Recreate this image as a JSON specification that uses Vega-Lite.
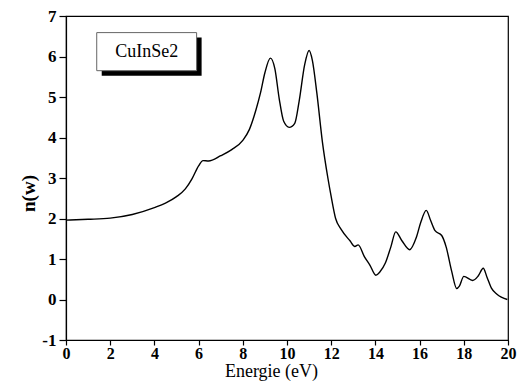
{
  "$schema": "https://vega.github.io/schema/vega-lite/v6.json",
  "width": 442,
  "height": 324,
  "autosize": {"type": "none"},
  "padding": {"left": 66, "top": 16, "right": 10, "bottom": 45},
  "background": "white",
  "config": {
    "view": {"stroke": "black", "strokeWidth": 1.2},
    "font": "Liberation Serif"
  },
  "layer": [
    {
      "data": {"values": [
        {"e": 0, "n": 1.96}, {"e": 1, "n": 1.98}, {"e": 2, "n": 2.01}, {"e": 3, "n": 2.1},
        {"e": 4, "n": 2.27}, {"e": 4.5, "n": 2.38}, {"e": 5, "n": 2.54}, {"e": 5.4, "n": 2.73},
        {"e": 5.7, "n": 2.98}, {"e": 6.0, "n": 3.3}, {"e": 6.2, "n": 3.43}, {"e": 6.45, "n": 3.42},
        {"e": 7.0, "n": 3.55}, {"e": 7.5, "n": 3.7}, {"e": 8.0, "n": 3.93}, {"e": 8.3, "n": 4.2},
        {"e": 8.6, "n": 4.69}, {"e": 8.8, "n": 5.1}, {"e": 9.0, "n": 5.6}, {"e": 9.25, "n": 5.96},
        {"e": 9.45, "n": 5.7}, {"e": 9.65, "n": 4.95}, {"e": 9.85, "n": 4.4}, {"e": 10.1, "n": 4.25},
        {"e": 10.35, "n": 4.35}, {"e": 10.55, "n": 4.9}, {"e": 10.8, "n": 5.8}, {"e": 11.0, "n": 6.15},
        {"e": 11.15, "n": 5.9}, {"e": 11.35, "n": 5.1}, {"e": 11.6, "n": 3.9}, {"e": 11.85, "n": 3.0},
        {"e": 12.0, "n": 2.54}, {"e": 12.2, "n": 2.0}, {"e": 12.45, "n": 1.73}, {"e": 12.85, "n": 1.45},
        {"e": 13.07, "n": 1.31}, {"e": 13.22, "n": 1.35}, {"e": 13.5, "n": 1.06}, {"e": 13.75, "n": 0.85},
        {"e": 14.02, "n": 0.6}, {"e": 14.2, "n": 0.68}, {"e": 14.45, "n": 0.9}, {"e": 14.7, "n": 1.3},
        {"e": 14.92, "n": 1.67}, {"e": 15.2, "n": 1.45}, {"e": 15.55, "n": 1.23}, {"e": 15.85, "n": 1.53},
        {"e": 16.05, "n": 1.9}, {"e": 16.3, "n": 2.2}, {"e": 16.5, "n": 1.95}, {"e": 16.7, "n": 1.7},
        {"e": 17.0, "n": 1.58}, {"e": 17.2, "n": 1.3}, {"e": 17.45, "n": 0.7}, {"e": 17.68, "n": 0.27},
        {"e": 17.8, "n": 0.33}, {"e": 18.0, "n": 0.57}, {"e": 18.4, "n": 0.47}, {"e": 18.65, "n": 0.58},
        {"e": 18.88, "n": 0.77}, {"e": 19.05, "n": 0.55}, {"e": 19.25, "n": 0.28}, {"e": 19.5, "n": 0.13},
        {"e": 19.97, "n": 0.0}
      ]},
      "mark": {"type": "line", "color": "black", "strokeWidth": 1.4, "interpolate": "monotone"},
      "encoding": {
        "x": {
          "field": "e", "type": "quantitative", "title": "Energie (eV)",
          "scale": {"domain": [0, 20], "nice": false, "zero": false},
          "axis": {
            "values": [0,1,2,3,4,5,6,7,8,9,10,11,12,13,14,15,16,17,18,19,20],
            "labelExpr": "datum.value % 2 == 0 ? toString(datum.value) : ''",
            "grid": false,
            "domainColor": "black", "domainWidth": 1.2,
            "tickColor": "black", "tickWidth": 1.2,
            "tickSize": {"condition": {"test": "datum.value % 2 == 0", "value": 5}, "value": 3},
            "labelFont": "Liberation Serif", "labelFontSize": 16, "labelFontWeight": "bold", "labelColor": "black",
            "labelPadding": 0, "labelFlush": false, "labelOverlap": false,
            "titleFont": "Liberation Serif", "titleFontSize": 18, "titleFontWeight": "normal", "titleColor": "black",
            "titleX": 205, "titleY": 36, "titleBaseline": "alphabetic", "titleAlign": "center"
          }
        },
        "y": {
          "field": "n", "type": "quantitative", "title": "n(w)",
          "scale": {"domain": [-1, 7], "nice": false, "zero": false},
          "axis": {
            "values": [-1,-0.5,0,0.5,1,1.5,2,2.5,3,3.5,4,4.5,5,5.5,6,6.5,7],
            "labelExpr": "datum.value % 1 == 0 ? toString(datum.value) : ''",
            "grid": false,
            "domainColor": "black", "domainWidth": 1.2,
            "tickColor": "black", "tickWidth": 1.2,
            "tickSize": {"condition": {"test": "datum.value % 1 == 0", "value": 7}, "value": 3},
            "labelFont": "Liberation Serif", "labelFontSize": 17, "labelFontWeight": "bold", "labelColor": "black",
            "labelPadding": 3, "labelFlush": false, "labelOverlap": false,
            "titleFont": "Liberation Serif", "titleFontSize": 19, "titleFontWeight": "bold", "titleColor": "black",
            "titleAngle": -90, "titleX": -38, "titleY": 177, "titleBaseline": "middle", "titleAlign": "center"
          }
        }
      }
    },
    {
      "data": {"values": [{"x1": 1.39, "x2": 5.91, "y1": 5.65, "y2": 6.59}]},
      "mark": {"type": "rect", "color": "black", "xOffset": 5, "x2Offset": 5, "yOffset": 5, "y2Offset": 5},
      "encoding": {
        "x": {"field": "x1", "type": "quantitative", "title": "Energie (eV)"},
        "x2": {"field": "x2"},
        "y": {"field": "y1", "type": "quantitative", "title": "n(w)"},
        "y2": {"field": "y2"}
      }
    },
    {
      "data": {"values": [{"x1": 1.39, "x2": 5.91, "y1": 5.65, "y2": 6.59}]},
      "mark": {"type": "rect", "fill": "white", "stroke": "#666666", "strokeWidth": 1},
      "encoding": {
        "x": {"field": "x1", "type": "quantitative", "title": "Energie (eV)"},
        "x2": {"field": "x2"},
        "y": {"field": "y1", "type": "quantitative", "title": "n(w)"},
        "y2": {"field": "y2"}
      }
    },
    {
      "data": {"values": [{"x": 3.65, "y": 6.12, "label": "CuInSe2"}]},
      "mark": {"type": "text", "font": "Liberation Serif", "fontSize": 18, "color": "black", "align": "center", "baseline": "middle"},
      "encoding": {
        "x": {"field": "x", "type": "quantitative", "title": "Energie (eV)"},
        "y": {"field": "y", "type": "quantitative", "title": "n(w)"},
        "text": {"field": "label"}
      }
    }
  ]
}
